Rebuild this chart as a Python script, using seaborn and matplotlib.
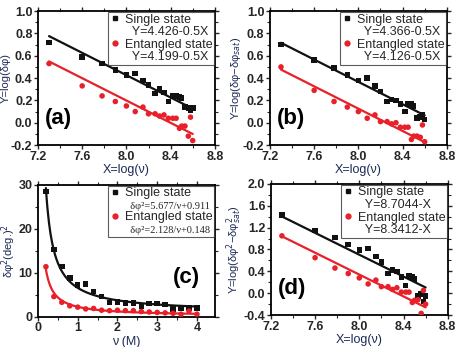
import numpy as np
import pandas as pd
import matplotlib
matplotlib.use("Agg")
import matplotlib.pyplot as plt
import seaborn as sns
from matplotlib.lines import Line2D
from matplotlib.ticker import AutoMinorLocator

sns.set_theme(style="ticks")
plt.rcParams['font.family'] = ['Liberation Sans', 'DejaVu Sans']
plt.rcParams['mathtext.fontset'] = 'dejavusans'

# ---- data ----
nu = [0.2, 0.4, 0.6, 0.8, 1.0, 1.2, 1.4, 1.6, 1.8, 2.0,
      2.2, 2.4, 2.6, 2.8, 3.0, 3.2, 3.4, 3.6, 3.8, 4.0]
logx = [7.30, 7.60, 7.78, 7.90, 8.00, 8.08, 8.15, 8.20, 8.26, 8.30,
        8.34, 8.38, 8.42, 8.45, 8.48, 8.50, 8.53, 8.56, 8.58, 8.60]

a_single = [0.72, 0.59, 0.53, 0.47, 0.43, 0.44, 0.38, 0.34, 0.26, 0.30,
            0.27, 0.19, 0.24, 0.24, 0.23, 0.22, 0.14, 0.13, 0.11, 0.13]
a_ent = [0.53, 0.33, 0.24, 0.19, 0.15, 0.10, 0.14, 0.08, 0.08, 0.06,
         0.07, 0.04, 0.04, 0.04, -0.05, -0.03, -0.03, -0.12, 0.05, -0.16]

b_single = [0.70, 0.56, 0.49, 0.43, 0.38, 0.40, 0.33, 0.28, 0.19, 0.21,
            0.20, 0.17, 0.10, 0.17, 0.17, 0.15, 0.04, 0.05, 0.07, 0.03]
b_ent = [0.50, 0.29, 0.19, 0.14, 0.10, 0.04, 0.07, 0.01, 0.01, -0.01,
         0.00, -0.04, -0.04, -0.04, -0.15, -0.12, -0.12, -0.13, -0.02, -0.17]

c_single = [28.5, 15.3, 11.4, 8.8, 7.2, 7.5, 5.8, 4.6, 3.3, 3.4,
            3.2, 3.1, 2.3, 3.0, 3.0, 2.8, 1.8, 2.0, 2.0, 2.0]
c_ent = [11.4, 4.6, 3.3, 2.5, 2.2, 1.8, 1.9, 1.5, 1.4, 1.5,
         1.4, 1.4, 1.2, 1.1, 1.0, 0.9, 0.8, 0.6, 1.3, 0.6]

d_single = [1.43, 1.15, 1.02, 0.89, 0.79, 0.82, 0.67, 0.57, 0.36, 0.42,
            0.40, 0.30, 0.14, 0.32, 0.30, 0.26, -0.05, -0.01, -0.15, -0.05]
d_ent = [1.05, 0.65, 0.46, 0.36, 0.28, 0.17, 0.24, 0.12, 0.12, 0.07,
         0.10, 0.02, 0.02, 0.02, -0.17, -0.13, -0.12, -0.37, 0.05, -0.20]

# fit coefficients shown in the legends
a_fit = [(4.426, -0.5), (4.199, -0.5)]
b_fit = [(4.366, -0.5), (4.126, -0.5)]
d_fit = [(8.7044, -1.0), (8.3412, -1.0)]
c_fit = [(5.677, 0.911), (2.128, 0.148)]

a_labels = ["Y=4.426-0.5X", "Y=4.199-0.5X"]
b_labels = ["Y=4.366-0.5X", "Y=4.126-0.5X"]
c_labels = ["δφ²=5.677/ν+0.911", "δφ²=2.128/ν+0.148"]
d_labels = ["Y=8.7044-X", "Y=8.3412-X"]

BLACK = "#111111"
RED = "#e8202a"
LABEL_COLOR = "#1c2a55"

fig = plt.figure(figsize=(4.63, 3.47), dpi=100)
axA = fig.add_axes([0.082, 0.582, 0.382, 0.386])
axB = fig.add_axes([0.583, 0.582, 0.382, 0.386])
axC = fig.add_axes([0.082, 0.087, 0.382, 0.380])
axD = fig.add_axes([0.585, 0.092, 0.382, 0.378])


def style_axes(ax):
    for s in ax.spines.values():
        s.set_linewidth(1.3)
        s.set_color("black")
    ax.xaxis.set_minor_locator(AutoMinorLocator(2))
    ax.yaxis.set_minor_locator(AutoMinorLocator(2))
    ax.tick_params(axis="both", which="major", direction="out", length=3, width=1.0,
                   labelsize=9, pad=1)
    ax.tick_params(axis="both", which="minor", direction="out", length=2, width=0.8)
    ax.tick_params(top=True, right=True, which="both")
    ax.grid(False)


def make_legend(ax, labels, fs=9.0):
    handles = [Line2D([], [], marker="s", color=BLACK, ls="none", markersize=3.5),
               Line2D([], [], ls="none"),
               Line2D([], [], marker="o", color=RED, ls="none", markersize=3.5),
               Line2D([], [], ls="none")]
    texts = ["Single state", "  " + labels[0], "Entangled state", "  " + labels[1]]
    leg = ax.legend(handles, texts, loc="upper right", fontsize=fs, frameon=True,
                    fancybox=False, edgecolor="#333333", borderpad=0.15,
                    labelspacing=0.05, handlelength=0.7, handletextpad=0.45,
                    borderaxespad=0.05)
    leg.get_frame().set_linewidth(0.8)
    return leg


def loglin_panel(ax, ys, ye, fits, labels, ylim, yticks, ylabel, tag, tagpos):
    df = pd.DataFrame({"x": logx, "single": ys, "ent": ye})
    sns.scatterplot(data=df, x="x", y="single", ax=ax, marker="s", color=BLACK,
                    s=16, edgecolor="none", zorder=3)
    sns.scatterplot(data=df, x="x", y="ent", ax=ax, marker="o", color=RED,
                    s=16, edgecolor="none", zorder=3)
    xl = np.array([logx[0], logx[-1]])
    for (c0, c1), col in zip(fits, [BLACK, RED]):
        sns.lineplot(x=xl, y=c0 + c1 * xl, ax=ax, color=col, lw=1.6, zorder=2)
    ax.set_xlim(7.2, 8.8)
    ax.set_xticks([7.2, 7.6, 8.0, 8.4, 8.8])
    ax.set_xticklabels(["7.2", "7.6", "8.0", "8.4", "8.8"], fontweight="bold")
    ax.set_ylim(*ylim)
    ax.set_yticks(yticks)
    ax.set_yticklabels([f"{t:.1f}" for t in yticks], fontweight="bold")
    ax.set_xlabel("X=log(ν)", fontsize=9, color=LABEL_COLOR, labelpad=1)
    ax.set_ylabel(ylabel, fontsize=8, color=LABEL_COLOR, labelpad=0)
    style_axes(ax)
    make_legend(ax, labels)
    ax.text(tagpos[0], tagpos[1], tag, transform=ax.transAxes, fontsize=16,
            fontweight="bold", color="black", va="center", ha="left")


loglin_panel(axA, a_single, a_ent, a_fit, a_labels, (-0.2, 1.0),
             [-0.2, 0.0, 0.2, 0.4, 0.6, 0.8, 1.0], "Y=log(δφ)", "(a)", (0.04, 0.2))
loglin_panel(axB, b_single, b_ent, b_fit, b_labels, (-0.2, 1.0),
             [-0.2, 0.0, 0.2, 0.4, 0.6, 0.8, 1.0],
             r"Y=log(δφ−δφ$_{sat}$)", "(b)", (0.04, 0.2))
loglin_panel(axD, d_single, d_ent, d_fit, d_labels, (-0.4, 2.0),
             [-0.4, 0.0, 0.4, 0.8, 1.2, 1.6, 2.0],
             r"Y=log(δφ$^2$−δφ$_{sat}^2$)", "(d)", (0.04, 0.2))

# panel (c)
dfc = pd.DataFrame({"nu": nu, "single": c_single, "ent": c_ent})
sns.scatterplot(data=dfc, x="nu", y="single", ax=axC, marker="s", color=BLACK,
                s=16, edgecolor="none", zorder=3)
sns.scatterplot(data=dfc, x="nu", y="ent", ax=axC, marker="o", color=RED,
                s=16, edgecolor="none", zorder=3)
xc = np.linspace(nu[0], nu[-1], 200)
for (c0, c1), col in zip(c_fit, [BLACK, RED]):
    sns.lineplot(x=xc, y=c0 / xc + c1, ax=axC, color=col, lw=1.6, zorder=2)
axC.set_xlim(0, 4.45)
axC.set_xticks([0, 1, 2, 3, 4])
axC.set_xticklabels(["0", "1", "2", "3", "4"], fontweight="bold")
axC.set_ylim(0, 30)
axC.set_yticks([0, 10, 20, 30])
axC.set_yticklabels(["0", "10", "20", "30"], fontweight="bold")
axC.set_xlabel("ν (M)", fontsize=9, color=LABEL_COLOR, labelpad=1)
axC.set_ylabel(r"δφ$^2$(deg.)$^2$", fontsize=8, color=LABEL_COLOR, labelpad=0)
style_axes(axC)
leg = make_legend(axC, c_labels)
for t in [leg.get_texts()[1], leg.get_texts()[3]]:
    t.set_fontfamily(["Liberation Serif", "DejaVu Serif"])
    t.set_fontsize(7.5)
axC.text(0.76, 0.3, "(c)", transform=axC.transAxes, fontsize=16,
         fontweight="bold", color="black", va="center", ha="left")

fig.savefig("out.png", dpi=100)
